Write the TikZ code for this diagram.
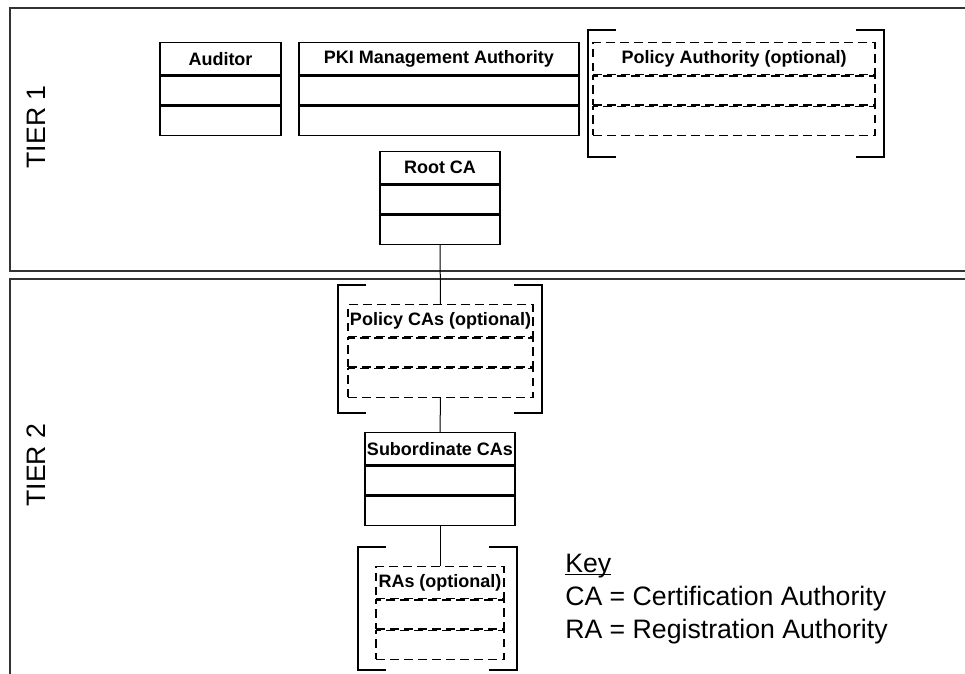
\documentclass[tikz,border=0pt]{standalone}
\usepackage{fontspec}
\setmainfont{Liberation Sans}
\usetikzlibrary{positioning}

\newcommand\boxfont{\fontsize{13.5}{16}\selectfont\bfseries}
\newcommand\keyfont{\fontsize{20}{24}\selectfont}

\begin{document}
\begin{tikzpicture}[x=0.75pt, y=-0.75pt]
    % Khung hình và vùng cắt
    \useasboundingbox (0,0) rectangle (965,674);

    % Các kiểu vẽ
    \tikzset{
        tierframe/.style={draw=black!80, line width=1.5pt},
        classhead/.style={draw, line width=1pt, inner sep=0pt, minimum height=24pt, font=\boxfont},
        classrow/.style={draw, line width=1pt, inner sep=0pt, minimum height=21.75pt},
        optional/.style={dash pattern=on 6.5pt off 4pt},
        boxwidth/.style={minimum width=#1*0.75pt},
        bracket/.style={line width=1.1pt},
        link/.style={line width=0.75pt}
    }

    % Hai tầng TIER 1 và TIER 2
    \begin{scope}
        \clip (0,0) rectangle (965,674);
        \draw[tierframe] (1000,8) -- (10,8) -- (10,271) -- (1000,271);
        \draw[tierframe] (1000,279) -- (10,279) -- (10,700);
    \end{scope}
    \node[rotate=90, font=\keyfont] (tier1) at (36,127) {TIER 1};
    \node[rotate=90, font=\keyfont] (tier2) at (36,465) {TIER 2};

    % Các hộp ba ngăn
    \foreach \n/\x/\y/\w/\s/\t in {
        auditor/220.5/42/121/solid/Auditor,
        pki/439/42/280/solid/PKI Management Authority,
        pa/734/42/282/optional/Policy Authority (optional),
        root/440/151/120/solid/Root CA,
        policyca/440.5/304/185/optional/Policy CAs (optional),
        subca/440/432/150/solid/Subordinate CAs,
        ra/440/566/128/optional/RAs (optional)} {
        \node[classhead, boxwidth=\w, \s, anchor=north] (\n) at (\x,\y) {\t};
        \node[classrow, boxwidth=\w, \s, below=0pt of \n] (\n-2) {};
        \node[classrow, boxwidth=\w, \s, below=0pt of \n-2] (\n-3) {};
    }

    % Dấu ngoặc vuông cho các thành phần tùy chọn
    \foreach \xa/\ya/\xb/\yb in {588/30/884/157, 338/285/542/413, 358/547/517/670} {
        \draw[bracket] (\xa+28,\ya) -- (\xa,\ya) -- (\xa,\yb) -- (\xa+28,\yb);
        \draw[bracket] (\xb-28,\ya) -- (\xb,\ya) -- (\xb,\yb) -- (\xb-28,\yb);
    }

    % Đường nối
    \draw[link] (root-3.south) -- (policyca.north);
    \draw[link] (policyca-3.south) -- (subca.north);
    \draw[link] (subca-3.south) -- (ra.north);

    % Chú thích
    \node[anchor=base west, font=\keyfont, inner sep=0pt] (keyhead) at (565,572) {\underline{\smash{Key}}};
    \node[anchor=base west, font=\keyfont, inner sep=0pt] (keyca) at (565,605) {CA = Certification Authority};
    \node[anchor=base west, font=\keyfont, inner sep=0pt] (keyra) at (565,638) {RA = Registration Authority};
\end{tikzpicture}
\end{document}
